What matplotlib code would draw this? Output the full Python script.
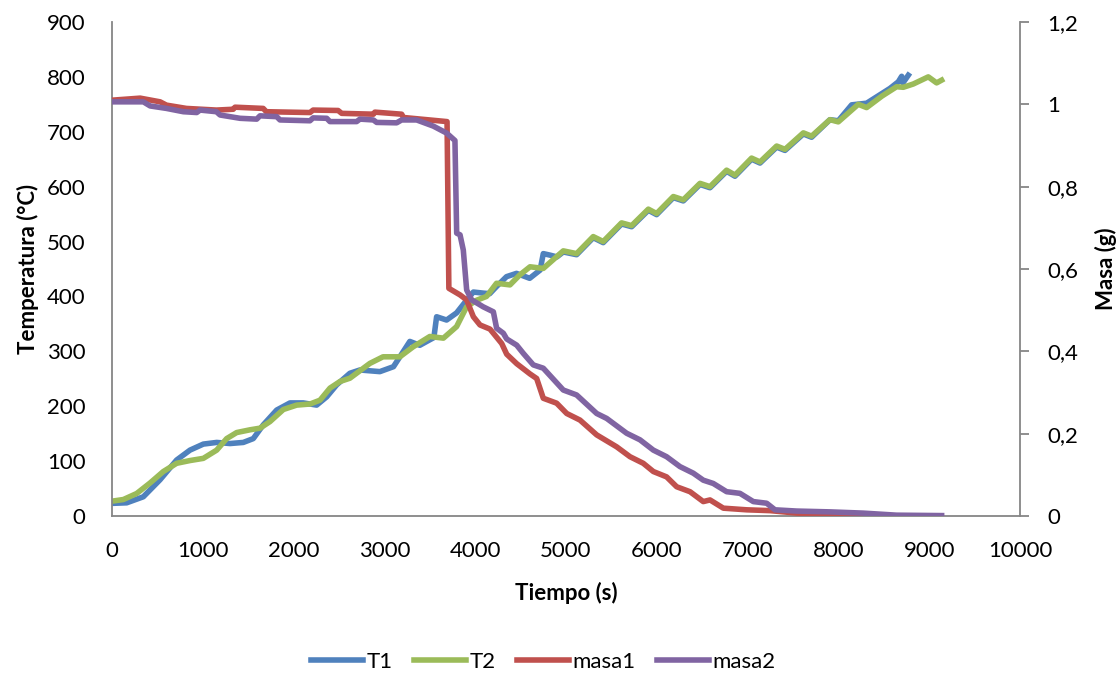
import matplotlib
matplotlib.use('Agg')
import matplotlib.pyplot as plt
from matplotlib.ticker import FuncFormatter

plt.rcParams['font.family'] = ['Lato', 'DejaVu Sans']

# T1 (blue)
t1_time = [0, 162, 345, 529, 712, 859, 1006, 1153, 1300, 1446, 1556, 1666, 1814, 1960, 2107,
           2254, 2364, 2475, 2620, 2730, 2950, 3100, 3280, 3390, 3500, 3545, 3575, 3685, 3795,
           3905, 3980, 4090, 4160, 4235, 4345, 4455, 4600, 4715, 4750, 4830, 4900, 4970, 5117,
           5300, 5410, 5612, 5723, 5907, 5998, 6182, 6292, 6476, 6586, 6769, 6861, 7044, 7137,
           7320, 7412, 7614, 7705, 7907, 7999, 8146, 8311, 8568, 8660, 8697, 8711, 8770]
t1_temp = [23, 24, 35, 66, 102, 120, 131, 134, 132, 134, 141, 166, 193, 206, 206,
           202, 217, 239, 260, 266, 263, 272, 318, 311, 321, 325, 363, 357, 370,
           393, 408, 406, 405, 418, 436, 442, 433, 448, 478, 475, 472, 481, 476,
           507, 498, 532, 527, 557, 549, 580, 574, 604, 598, 628, 619, 650, 643,
           672, 666, 696, 690, 722, 720, 749, 752, 779, 791, 801, 789, 803]

# T2 (green)
t2_time = [0, 125, 272, 418, 565, 712, 859, 1006, 1153, 1263, 1373, 1520, 1630, 1740, 1887,
           2034, 2181, 2291, 2401, 2511, 2620, 2840, 2985, 3170, 3315, 3500, 3650, 3795, 3905,
           4015, 4125, 4235, 4383, 4490, 4604, 4750, 4970, 5117, 5300, 5410, 5612, 5723, 5907,
           5998, 6182, 6292, 6476, 6586, 6769, 6861, 7044, 7137, 7320, 7412, 7614, 7705, 7907,
           7999, 8219, 8311, 8480, 8641, 8715, 8825, 8990, 9082, 9137]
t2_temp = [27, 30, 41, 60, 81, 96, 101, 105, 120, 141, 152, 157, 160, 172, 194,
           202, 204, 211, 233, 245, 251, 278, 290, 290, 308, 327, 324, 345, 381,
           393, 400, 424, 421, 439, 454, 451, 483, 478, 509, 500, 534, 529, 559,
           551, 582, 576, 606, 600, 630, 621, 652, 645, 674, 668, 698, 692, 722,
           718, 750, 744, 765, 782, 781, 787, 800, 789, 794]

# masa1 (red)
m1_time = [0, 310, 530, 600, 820, 1150, 1335, 1355, 1665, 1700, 2180, 2215, 2490, 2530, 2880,
           2895, 3190, 3210, 3690, 3710, 3833, 3905, 3980, 4053, 4163, 4292, 4347, 4457, 4604,
           4677, 4750, 4897, 5008, 5154, 5338, 5558, 5705, 5851, 5962, 6108, 6219, 6366, 6512,
           6586, 6733, 6990, 7247, 7540, 8091, 8700]
m1_mass = [1.010, 1.015, 1.006, 0.998, 0.990, 0.986, 0.988, 0.993, 0.990, 0.982, 0.980, 0.986,
           0.985, 0.978, 0.976, 0.981, 0.976, 0.968, 0.958, 0.553, 0.537, 0.525, 0.484, 0.464,
           0.454, 0.419, 0.393, 0.370, 0.345, 0.334, 0.286, 0.274, 0.249, 0.233, 0.197, 0.168,
           0.144, 0.128, 0.108, 0.095, 0.071, 0.059, 0.035, 0.039, 0.019, 0.015, 0.013, 0.007,
           0.002, 0.000]

# masa2 (purple)
m2_time = [0, 345, 420, 600, 785, 933, 970, 1150, 1190, 1410, 1594, 1630, 1814, 1850, 2180,
           2215, 2365, 2400, 2694, 2731, 2878, 2915, 3135, 3190, 3355, 3539, 3686, 3777, 3796,
           3833, 3869, 3906, 3961, 4089, 4200, 4236, 4310, 4347, 4457, 4530, 4640, 4750, 4970,
           5117, 5338, 5448, 5668, 5815, 5962, 6108, 6255, 6402, 6512, 6622, 6769, 6916, 7063,
           7210, 7302, 7540, 7907, 8274, 8641, 9137]
m2_mass = [1.006, 1.006, 0.996, 0.990, 0.982, 0.980, 0.986, 0.982, 0.974, 0.966, 0.964, 0.972,
           0.970, 0.962, 0.960, 0.967, 0.966, 0.958, 0.958, 0.964, 0.962, 0.956, 0.955, 0.962,
           0.962, 0.947, 0.930, 0.912, 0.687, 0.683, 0.646, 0.549, 0.525, 0.508, 0.496, 0.456,
           0.444, 0.430, 0.415, 0.395, 0.367, 0.359, 0.306, 0.294, 0.249, 0.237, 0.201, 0.185,
           0.160, 0.144, 0.120, 0.104, 0.087, 0.079, 0.059, 0.055, 0.035, 0.031, 0.015, 0.012,
           0.010, 0.007, 0.002, 0.001]

temp_ticks = [0, 100, 200, 300, 400, 500, 600, 700, 800, 900]
mass_ticks = [0, 0.2, 0.4, 0.6, 0.8, 1.0, 1.2]
time_ticks = [0, 1000, 2000, 3000, 4000, 5000, 6000, 7000, 8000, 9000, 10000]

fig = plt.figure(figsize=(11.2, 6.76), dpi=100)
ax = fig.add_axes([0.1, 0.2367, 0.8107, 0.7308])
ax2 = ax.twinx()

lw = 4.0
l1, = ax.plot(t1_time, t1_temp, color='#4F81BD', lw=lw, label='T1', solid_joinstyle='round')
l2, = ax.plot(t2_time, t2_temp, color='#9BBB59', lw=lw, label='T2', solid_joinstyle='round')
l3, = ax2.plot(m1_time, m1_mass, color='#C0504D', lw=lw, label='masa1', solid_joinstyle='round')
l4, = ax2.plot(m2_time, m2_mass, color='#8064A2', lw=lw, label='masa2', solid_joinstyle='round')

ax.set_xlim(0, 10000)
ax.set_ylim(0, 900)
ax2.set_ylim(0, 1.2)
ax.set_xticks(time_ticks)
ax.set_yticks(temp_ticks)
ax2.set_yticks(mass_ticks)
ax2.yaxis.set_major_formatter(FuncFormatter(lambda v, p: f'{v:g}'.replace('.', ',')))

spine_col = '#868686'
for a in (ax, ax2):
    for s in a.spines.values():
        s.set_color(spine_col)
        s.set_linewidth(1.3)
    a.spines['top'].set_visible(False)
ax.spines['right'].set_visible(False)
ax2.spines['left'].set_visible(False)
ax2.spines['bottom'].set_visible(False)

fs = 16
ax.tick_params(axis='y', length=0, pad=19, labelsize=fs)
ax.tick_params(axis='x', length=0, pad=18, labelsize=fs)
ax2.tick_params(axis='y', length=6.5, width=1.3, color=spine_col, pad=13, labelsize=fs)

ax.set_xlabel('Tiempo (s)', fontsize=fs, fontweight='bold', labelpad=15)
ax.set_ylabel('Temperatura (°C)', fontsize=fs, fontweight='bold', labelpad=6)
ax2.set_ylabel('Masa (g)', fontsize=fs, fontweight='bold', labelpad=12)

fig.legend(handles=[l1, l2, l3, l4], loc='center', bbox_to_anchor=(0.485, 0.021),
           ncol=4, frameon=False, fontsize=fs, handlelength=2.35,
           handletextpad=0.15, columnspacing=0.95)

fig.savefig('out.png', dpi=100)
